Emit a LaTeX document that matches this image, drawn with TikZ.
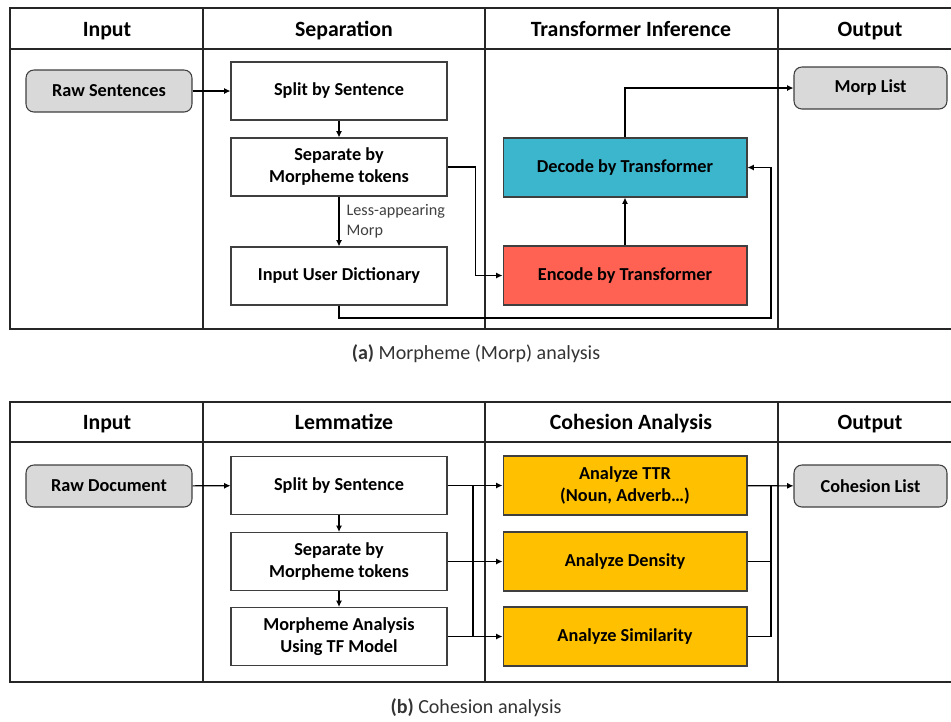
\documentclass[tikz,border=0pt]{standalone}
\usepackage{fontspec}
\setmainfont{Carlito}
\usepackage{tikz}
\usepackage{xcolor}
\usetikzlibrary{positioning, arrows.meta}

\definecolor{laneline}{HTML}{262626}
\definecolor{boxline}{HTML}{3F3F3F}
\definecolor{iofill}{HTML}{D9D9D9}
\definecolor{decfill}{HTML}{3BB6CD}
\definecolor{encfill}{HTML}{FF6152}
\definecolor{anafill}{HTML}{FFC000}

\begin{document}
\begin{tikzpicture}[
    x=0.02cm, y=-0.02cm,
    lane/.style={draw=laneline, line width=0.8pt},
    head/.style={anchor=base, font=\fontsize{12.4}{14}\selectfont\bfseries},
    box/.style={draw=boxline, line width=0.6pt, align=center, inner sep=0pt, minimum width=4.32cm, minimum height=1.16cm, font=\fontsize{10.4}{12.5}\selectfont\bfseries},
    wide/.style={box, minimum width=4.88cm, minimum height=1.18cm},
    io/.style={box, rounded corners=4.5pt, fill=iofill, minimum width=3.32cm, minimum height=0.84cm},
    lbl/.style={align=left, inner sep=1pt, text=black!75, font=\fontsize{9.2}{11.3}\selectfont},
    subcap/.style={text=black!80, font=\fontsize{11.4}{13}\selectfont},
    arr/.style={-{Latex[length=3.6pt, width=3.4pt]}, line width=0.65pt}
  ]
    \useasboundingbox (0,0) rectangle (951,721);

    % swim lanes, open on the right
    \foreach \top/\hd/\bot in {8/49/329, 402/442/682} {
      \draw[lane] (951,\top) -| (10,\bot) -- (951,\bot);
      \draw[lane] (10,\hd) -- (951,\hd);
      \foreach \x in {203,485,778}
        \draw[lane] (\x,\top) -- (\x,\bot);
    }

    % (a) morpheme analysis
    \node[head] (hinA) at (107,36.5) {Input};
    \node[head] (hsep) at (344,36.5) {Separation};
    \node[head] (hinf) at (631,36.5) {Transformer Inference};
    \node[head] (houtA) at (870,36.5) {Output};

    \node[io] (rawsent) at (109,91) {Raw Sentences};
    \node[box] (split) at (339,91) {Split by Sentence};
    \node[box] (separate) at (339,167) {Separate by\\Morpheme tokens};
    \node[box] (userdict) at (339,276) {Input User Dictionary};
    \node[wide, fill=decfill] (decode) at (625,167.5) {Decode by Transformer};
    \node[wide, fill=encfill] (encode) at (625,275.5) {Encode by Transformer};
    \node[io, minimum width=3.06cm] (morplist) at (870.5,88) {Morp List};

    \coordinate (loopbend) at (771,318);

    \draw[arr] (rawsent) -- (split);
    \draw[arr] (split) -- (separate);
    \draw[arr] (separate) -- node[right, lbl, xshift=3pt] {Less-appearing\\Morp} (userdict);
    \draw[arr] (separate.east) -- ++(28,0) |- (encode.west);
    \draw[arr] (encode) -- (decode);
    \draw[arr] (decode.north) |- (morplist.west);
    \draw[arr] (userdict.south) |- (loopbend) |- (decode.east);

    \node[subcap] (capA) at (476,354) {\textbf{(a)} Morpheme (Morp) analysis};

    % (b) cohesion analysis
    \node[head] (hinB) at (107,429.5) {Input};
    \node[head] (hlem) at (344,429.5) {Lemmatize};
    \node[head] (hcoh) at (631,429.5) {Cohesion Analysis};
    \node[head] (houtB) at (870,429.5) {Output};

    \node[io] (rawdoc) at (109,486) {Raw Document};
    \node[box] (splitb) at (339,485.5) {Split by Sentence};
    \node[box] (separateb) at (339,561.5) {Separate by\\Morpheme tokens};
    \node[box] (tfmodel) at (339,636.5) {Morpheme Analysis\\Using TF Model};
    \node[wide, fill=anafill] (ttr) at (625,485.5) {Analyze TTR\\(Noun, Adverb…)};
    \node[wide, fill=anafill] (density) at (625,561.5) {Analyze Density};
    \node[wide, fill=anafill] (similarity) at (625,636.5) {Analyze Similarity};
    \node[io, minimum width=3.06cm] (cohlist) at (870.5,486) {Cohesion List};

    \coordinate (fanin) at (473,0);
    \coordinate (fanout) at (771,0);

    \draw[arr] (rawdoc) -- (splitb);
    \draw[arr] (splitb) -- (separateb);
    \draw[arr] (separateb) -- (tfmodel);
    \draw[arr] (splitb) -- (ttr);
    \draw[arr] (separateb) -- (density);
    \draw[arr] (tfmodel) -- (similarity);
    \draw[line width=0.65pt] (fanin |- splitb.east) -- (fanin |- tfmodel.east);
    \draw[arr] (ttr) -- (cohlist);
    \draw[line width=0.65pt] (density.east) -- (fanout |- density.east);
    \draw[line width=0.65pt] (similarity.east) -- (fanout |- similarity.east) -- (fanout |- ttr.east);

    \node[subcap] (capB) at (476,708) {\textbf{(b)} Cohesion analysis};
  \end{tikzpicture}
\end{document}
